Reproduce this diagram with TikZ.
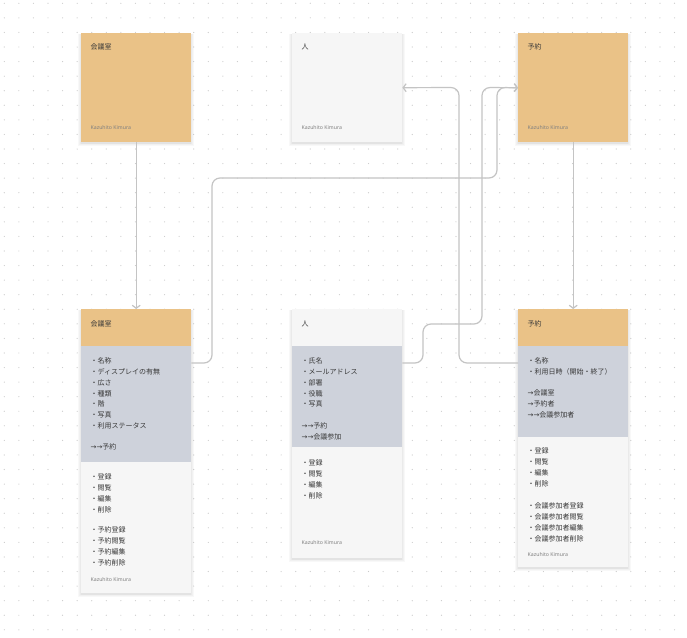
\documentclass[tikz,border=0pt]{standalone}
\usepackage{fontspec}
\setmainfont{Noto Sans CJK JP}
\newfontfamily\arrfont{DejaVu Sans}
\newfontfamily\latfont{Noto Sans}
\usetikzlibrary{arrows.meta}
\definecolor{cardorange}{HTML}{EAC287}
\definecolor{cardgray}{HTML}{CED2DB}
\definecolor{cardwhite}{HTML}{F6F6F6}
\definecolor{linegray}{HTML}{C4C4C4}
\definecolor{txtdark}{HTML}{383838}
\definecolor{authgray}{HTML}{808080}
\definecolor{dotgray}{HTML}{CACACA}
\newcommand{\rarr}{{\arrfont →}}
\newcommand{\softshadow}[4]{%
  \foreach \k in {0.4,1.1,1.9,2.8}{%
    \fill[black,opacity=0.028] (#1-\k,#2+1.5-0.3*\k) rectangle (#1+#3+\k,#2+#4+1.2+\k);}}
\begin{document}
\begin{tikzpicture}[x=1pt,y=-1pt,
 sect/.style={rectangle,anchor=north west,inner sep=0pt,minimum width=110pt},
 txt/.style={anchor=west,inner sep=0pt,font=\fontsize{7}{8}\selectfont,text=txtdark},
 auth/.style={anchor=west,inner sep=0pt,font=\latfont\fontsize{5.2}{6}\selectfont,text=authgray},
 conn/.style={draw=linegray,line width=1.2pt,rounded corners=8pt},
 tip/.style={-{Straight Barb[length=3pt,width=8pt]}}]
\useasboundingbox[fill=white] (0,0) rectangle (687,637);
% dot grid
\foreach \i in {0,...,47} \foreach \j in {0,...,43}
  \fill[dotgray] (4.3+14.57*\i,3.3+14.57*\j) circle (0.6pt);
% soft shadows
\softshadow{81}{33}{110}{109}
\softshadow{292}{33}{110}{109}
\softshadow{518}{33}{110}{109}
\softshadow{81}{309}{110}{284}
\softshadow{292}{309}{110}{249}
\softshadow{518}{309}{110}{258}
% top cards
\node[sect,fill=cardorange,minimum height=109pt] (Ktop) at (81,33) {};
\node[sect,fill=cardwhite,minimum height=109pt] (Htop) at (292,33) {};
\node[sect,fill=cardorange,minimum height=109pt] (Ytop) at (518,33) {};
\node[txt] (Ktt) at (90.5,47) {会議室};
\node[auth] (Kta) at (90.5,128) {Kazuhito Kimura};
\node[txt] (Htt) at (301.5,47) {人};
\node[auth] (Hta) at (301.5,128) {Kazuhito Kimura};
\node[txt] (Ytt) at (527.5,47) {予約};
\node[auth] (Yta) at (527.5,128) {Kazuhito Kimura};
% bottom card: 会議室
\node[sect,fill=cardwhite,minimum height=284pt] (Kcard) at (81,309) {};
\node[sect,fill=cardorange,minimum height=37pt] (Khead) at (81,309) {};
\node[sect,fill=cardgray,minimum height=116pt] (Kattr) at (81,346) {};
\node[txt] (Kbt) at (90.5,324) {会議室};
\foreach \t [count=\i from 0] in {・名称,・ディスプレイの有無,・広さ,・種類,・階,・写真,・利用ステータス}
  \node[txt] (Ka\i) at (90.5,361+10.8*\i) {\t};
\node[txt] (Kr) at (90.5,447) {\rarr\rarr 予約};
\foreach \t [count=\i from 0] in {・登録,・閲覧,・編集,・削除}
  \node[txt] (Ko\i) at (90.5,477+10.8*\i) {\t};
\foreach \t [count=\i from 0] in {・予約登録,・予約閲覧,・予約編集,・予約削除}
  \node[txt] (Kp\i) at (90.5,530+10.8*\i) {\t};
\node[auth] (Kba) at (90.5,580) {Kazuhito Kimura};
% bottom card: 人
\node[sect,fill=cardwhite,minimum height=249pt] (Hcard) at (292,309) {};
\node[sect,fill=cardwhite,minimum height=37pt] (Hhead) at (292,309) {};
\node[sect,fill=cardgray,minimum height=101pt] (Hattr) at (292,346) {};
\node[txt] (Hbt) at (301.5,324) {人};
\foreach \t [count=\i from 0] in {・氏名,・メールアドレス,・部署,・役職,・写真}
  \node[txt] (Ha\i) at (301.5,361+10.8*\i) {\t};
\node[txt] (Hr1) at (301.5,426) {\rarr\rarr 予約};
\node[txt] (Hr2) at (301.5,437) {\rarr\rarr 会議参加};
\foreach \t [count=\i from 0] in {・登録,・閲覧,・編集,・削除}
  \node[txt] (Ho\i) at (301.5,463+10.8*\i) {\t};
\node[auth] (Hba) at (301.5,543) {Kazuhito Kimura};
% bottom card: 予約
\node[sect,fill=cardwhite,minimum height=258pt] (Ycard) at (518,309) {};
\node[sect,fill=cardorange,minimum height=37pt] (Yhead) at (518,309) {};
\node[sect,fill=cardgray,minimum height=91pt] (Yattr) at (518,346) {};
\node[txt] (Ybt) at (527.5,324) {予約};
\foreach \t [count=\i from 0] in {・名称,・利用日時（開始・終了）}
  \node[txt] (Ya\i) at (527.5,361+10.8*\i) {\t};
\node[txt] (Yr1) at (527.5,393) {\rarr 会議室};
\node[txt] (Yr2) at (527.5,404) {\rarr 予約者};
\node[txt] (Yr3) at (527.5,415) {\rarr\rarr 会議参加者};
\foreach \t [count=\i from 0] in {・登録,・閲覧,・編集,・削除}
  \node[txt] (Yo\i) at (527.5,451+10.8*\i) {\t};
\foreach \t [count=\i from 0] in {・会議参加者登録,・会議参加者閲覧,・会議参加者編集,・会議参加者削除}
  \node[txt] (Yp\i) at (527.5,506+10.8*\i) {\t};
\node[auth] (Yba) at (527.5,555) {Kazuhito Kimura};
% connectors
\draw[conn,tip] (Ktop.south) -- (Khead.north);
\draw[conn,tip] (Ytop.south) -- (Yhead.north);
\draw[conn,tip] ([yshift=-17pt]Kattr.north east) -- (212,363) -- (212,178) -- (497,178) -- (497,87.5) -- (Ytop.west);
\draw[conn,tip] ([yshift=-17pt]Hattr.north east) -- (423,363) -- (423,324) -- (482,324) -- (482,87.5) -- (Ytop.west);
\draw[conn,tip] ([yshift=-17pt]Yattr.north west) -- (459,363) -- (459,87.5) -- (Htop.east);
\end{tikzpicture}
\end{document}
